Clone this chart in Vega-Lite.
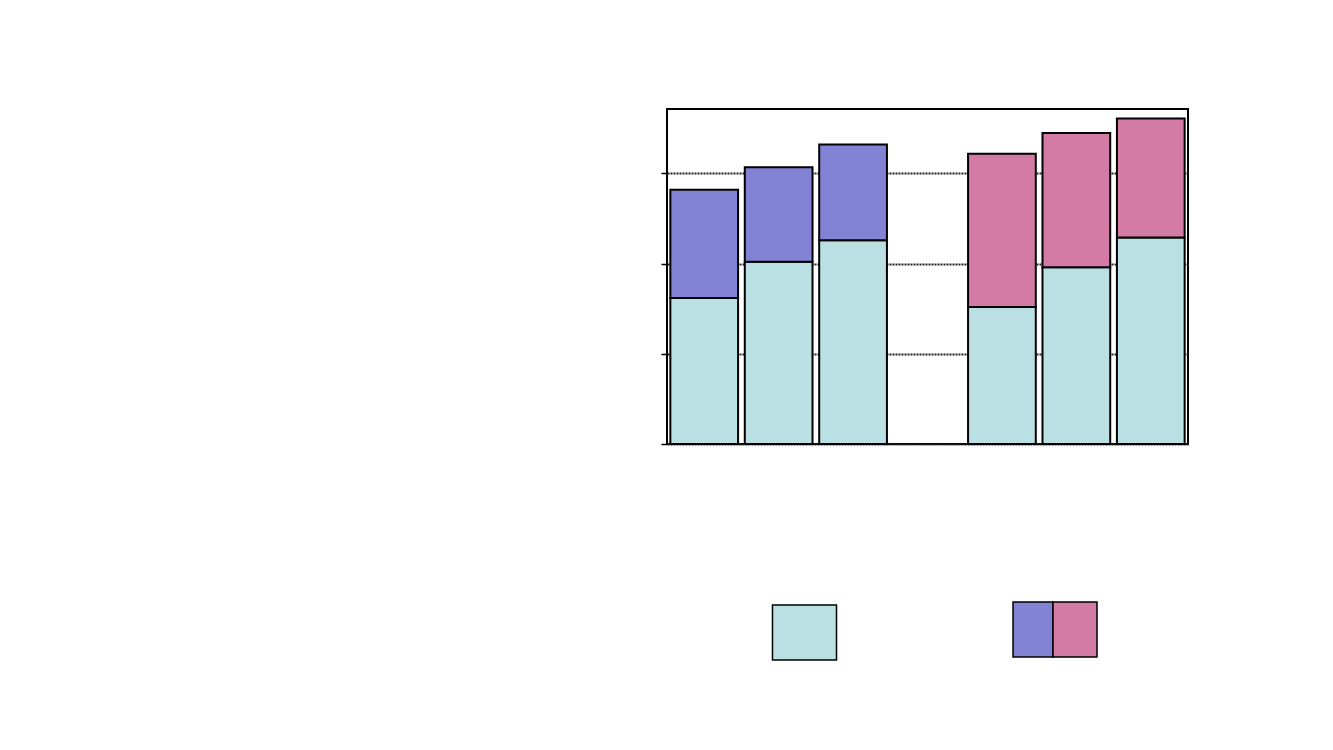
{
  "$schema": "https://vega.github.io/schema/vega-lite/v6.json",
  "autosize": {"type": "none"},
  "padding": {"left": 667, "top": 109, "right": 145, "bottom": 306},
  "width": 521,
  "height": 335,
  "background": "white",
  "config": {
    "view": {"stroke": "black", "strokeWidth": 2},
    "legend": {"padding": 0, "title": null, "labelOffset": 0, "labelFontSize": 0, "rowPadding": 0, "columnPadding": 0, "symbolStrokeColor": "black", "symbolStrokeWidth": 1.5, "symbolOpacity": 1, "symbolSize": 3025}
  },
  "data": {
    "values": [
      {"slot": "a1", "base": 1.62, "top": 2.82, "baseKind": "T", "segment": "P"},
      {"slot": "a2", "base": 2.02, "top": 3.07, "baseKind": "T", "segment": "P"},
      {"slot": "a3", "base": 2.26, "top": 3.32, "baseKind": "T", "segment": "P"},
      {"slot": "b1", "base": 1.52, "top": 3.22, "baseKind": "T", "segment": "Q"},
      {"slot": "b2", "base": 1.96, "top": 3.45, "baseKind": "T", "segment": "Q"},
      {"slot": "b3", "base": 2.29, "top": 3.61, "baseKind": "T", "segment": "Q"}
    ]
  },
  "encoding": {
    "x": {"field": "slot", "type": "nominal", "axis": null,
      "scale": {"domain": ["a1", "a2", "a3", "gap", "b1", "b2", "b3"], "paddingInner": 0.09, "paddingOuter": 0.045}}
  },
  "layer": [
    {
      "mark": {"type": "bar", "stroke": "black", "strokeWidth": 2},
      "encoding": {
        "y": {"field": "base", "type": "quantitative",
          "scale": {"domain": [0, 3.715], "nice": false, "zero": true},
          "axis": {"title": null, "labels": false, "domain": false, "ticks": true, "tickSize": 6, "tickColor": "black", "tickWidth": 1.5,
            "values": [0, 1, 2, 3], "grid": true, "gridDash": [2, 1], "gridColor": "#222222", "gridWidth": 1.8}},
        "fill": {"field": "baseKind", "type": "nominal",
          "scale": {"domain": ["T"], "range": ["#BBE0E3"]},
          "legend": {"orient": "none", "legendX": 109, "legendY": 495, "labelExpr": "''", "symbolType": "M-1.164,-1H1.164V1H-1.164Z"}}
      }
    },
    {
      "transform": [{"filter": "datum.segment === 'P'"}],
      "mark": {"type": "bar", "stroke": "black", "strokeWidth": 2},
      "encoding": {
        "y": {"field": "base", "type": "quantitative"},
        "y2": {"field": "top"},
        "fill": {"field": "segment", "type": "nominal",
          "scale": {"domain": ["P"], "range": ["#8383D5"]},
          "legend": {"orient": "none", "legendX": 337.5, "legendY": 492, "labelExpr": "''", "symbolType": "M-0.727,-1H0.727V1H-0.727Z"}}
      }
    },
    {
      "transform": [{"filter": "datum.segment === 'Q'"}],
      "mark": {"type": "bar", "stroke": "black", "strokeWidth": 2},
      "encoding": {
        "y": {"field": "base", "type": "quantitative"},
        "y2": {"field": "top"},
        "stroke": {"field": "segment", "type": "nominal", "scale": {"domain": ["Q"], "range": ["black"]}, "legend": null},
        "fill": {"field": "segment", "type": "nominal",
          "scale": {"domain": ["Q"], "range": ["#D37AA5"]},
          "legend": {"orient": "none", "legendX": 379.5, "legendY": 492, "labelExpr": "''", "symbolType": "M-0.8,-1H0.8V1H-0.8Z"}}
      }
    }
  ],
  "resolve": {"scale": {"fill": "independent", "stroke": "independent"}, "legend": {"fill": "independent"}}
}
